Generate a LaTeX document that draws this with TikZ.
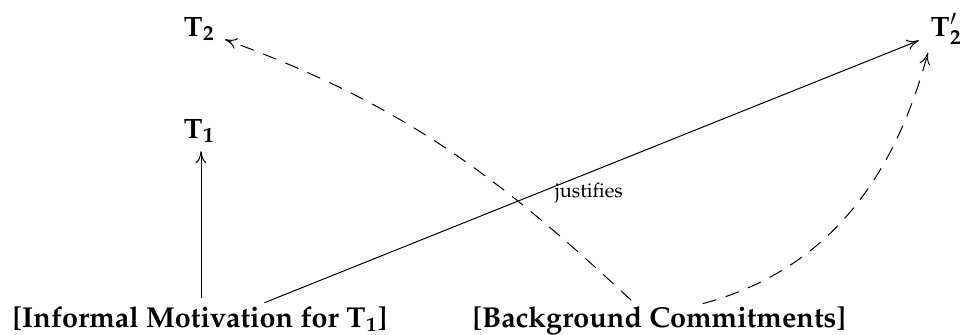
\documentclass[tikz,border=0pt]{standalone}
\usepackage[T1]{fontenc}
\usepackage{mathpazo}
\usetikzlibrary{arrows.meta}
\begin{document}
\begin{tikzpicture}[x=0.5pt,y=-0.5pt, >={Computer Modern Rightarrow[length=6pt,width=5.5pt]}, line width=0.5pt,
  lbl/.style={inner sep=0pt, font=\fontsize{14.4}{17}\selectfont\bfseries},
  tnode/.style={inner sep=0pt, font=\fontsize{14}{16}\selectfont},
  edge/.style={->},
  dedge/.style={->, dash pattern=on 7pt off 5pt}]
\useasboundingbox (0,0) rectangle (960,334);
\node[lbl, anchor=base west] (inf) at (12,327) {[Informal Motivation for $\mathbf{T_1}$]};
\node[lbl, anchor=base west] (bg) at (472,327) {[Background Commitments]};
\node[tnode, anchor=base west] (t1) at (183,138) {$\mathbf{T_1}$};
\node[tnode, anchor=base west] (t2) at (183,36) {$\mathbf{T_2}$};
\node[tnode, anchor=base west] (t2p) at (930,36) {$\mathbf{T'_2}$};
\node[tnode, anchor=base, font=\fontsize{10}{12}\selectfont] (just) at (589,197) {justifies};
\draw[edge, shorten <=4pt, shorten >=4pt] ([xshift=94.5pt]inf.north west) -- ([xshift=94.5pt]inf.north west |- t1.south);
\draw[edge, shorten <=4pt, shorten >=6pt] ([xshift=122.5pt]inf.north west) -- (t2p.base west);
\draw[dedge, shorten <=4pt, shorten >=5pt] ([xshift=82.5pt]bg.north west) to[out=137, in=-20] (t2.base east);
\draw[dedge, shorten <=4pt, shorten >=4pt] ([xshift=111.5pt]bg.north west) to[out=15, in=-105] (t2p.south west);
\end{tikzpicture}
\end{document}
